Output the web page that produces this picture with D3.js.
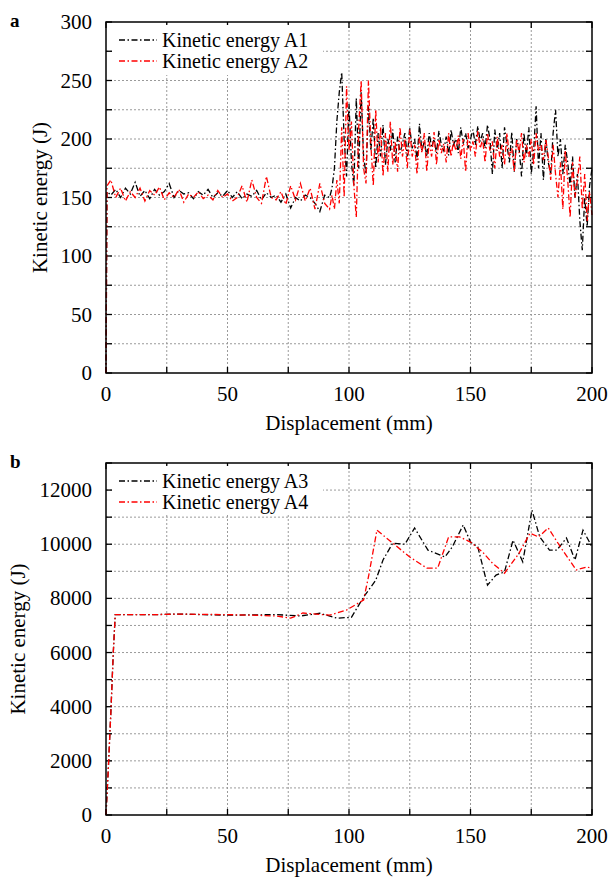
<!DOCTYPE html>
<html>
<head>
<meta charset="utf-8">
<script src="https://cdn.jsdelivr.net/npm/d3@7"></script>
</head>
<body style="margin:0">
<svg id="chart" width="609" height="880"></svg>
<script>
// ---- panel a data: displacement (mm) and kinetic energy (J)
const dispA = [0, 0.4,
  2, 4, 6, 8, 10, 12, 14, 16, 18, 20, 22, 24, 26, 28, 30, 32, 34, 36, 38, 40,
  42, 44, 46, 48, 50, 52, 54, 56, 58, 60, 62, 64, 66, 68, 70, 72, 74, 76, 78, 80,
  82, 84, 86, 88, 90, 92,
  93, 94, 95, 96, 97, 98, 99, 100, 101, 102, 103, 104, 105, 106, 107, 108, 109, 110, 111, 112,
  113, 114, 115, 116, 117, 118, 119, 120, 121, 122, 123, 124, 125, 126, 127, 128, 129, 130, 131, 132,
  133, 134, 135, 136, 137, 138, 139, 140, 141, 142, 143, 144, 145, 146, 147, 148, 149, 150, 151, 152,
  153, 154, 155, 156, 157, 158, 159, 160, 161, 162, 163, 164, 165, 166, 167, 168, 169, 170, 171, 172,
  173, 174, 175, 176, 177, 178, 179, 180, 181, 182, 183, 184, 185, 186, 187, 188, 189, 190, 191, 192,
  193, 194, 195, 196, 197, 198, 199, 200];

const energyA1 = [0, 155,
  152, 157, 150, 158, 153, 163, 151, 156, 149, 157, 152, 155, 162, 150, 156, 153, 154, 149, 155, 152,
  157, 150, 154, 151, 156, 150, 155, 149, 153, 151, 156, 148, 154, 150, 152, 146, 153, 141, 150, 147,
  152, 150, 145, 138, 152, 150,
  158, 175, 215, 240, 257, 200, 168, 230, 180, 160, 235, 175, 240, 185, 170, 228, 190, 218, 175, 205,
  185, 212, 178, 200, 190, 208, 180, 202, 188, 196, 205, 185, 210, 192, 200, 182, 213, 190, 198, 185,
  205, 193, 200, 188, 207, 195, 190, 202, 186, 208, 195, 200, 188, 210, 196, 205, 192, 200, 208, 195,
  211, 198, 205, 192, 212, 200, 170, 208, 190, 205, 175, 210, 195, 180, 206, 172, 200, 192, 168, 205,
  185, 210, 170, 190, 228, 175, 205, 165, 200, 180, 170, 205, 225, 185, 200, 170, 195, 180, 160, 185,
  150, 170, 130, 105, 150, 125, 160, 175];

const energyA2 = [0, 160,
  165, 150, 158, 147, 155, 150, 158, 147, 156, 152, 159, 148, 154, 150, 157, 146, 153, 150, 155, 149,
  152, 148, 156, 150, 153, 147, 150, 160, 146, 165, 150, 145, 168, 150, 148, 155, 144, 160, 148, 162,
  147, 158, 140, 162, 145, 140,
  152, 140, 165, 145, 210, 150, 245, 190, 215, 160, 133, 210, 250, 175, 162, 250, 195, 160, 225, 180,
  210, 168, 205, 172, 215, 178, 198, 172, 210, 185, 200, 175, 208, 185, 195, 170, 202, 188, 205, 172,
  198, 185, 206, 178, 200, 188, 196, 180, 205, 185, 198, 190, 203, 183, 200, 172, 205, 190, 198, 185,
  207, 192, 200, 180, 205, 190, 198, 175, 202, 185, 195, 178, 205, 185, 192, 172, 200, 188, 205, 180,
  195, 185, 200, 178, 205, 190, 195, 182, 200, 185, 165, 195, 170, 150, 180, 140, 190, 165, 133, 180,
  150, 165, 185, 140, 170, 130, 155, 135];

// ---- panel b data
const dispA3 = [0, 1, 2, 3, 3.8, 10, 20, 30, 40, 50, 60, 70, 80,
  88, 95, 101, 106, 111, 114, 118, 123, 127, 132.5,
  139.5, 142.5, 147, 150, 153, 157, 160.5, 164, 167.5, 171.5,
  175.3, 178.5, 182.5, 185.5, 189.5, 193, 196.3, 200];
const energyA3 = [0, 1800, 3800, 6000, 7400, 7400, 7400, 7420, 7400, 7380, 7390, 7400, 7350,
  7450, 7270, 7300, 8050, 8670, 9420, 10040, 10000, 10600, 9780,
  9530, 9900, 10710, 10080, 9900, 8490, 8860, 8980, 10150, 9350,
  11260, 10270, 9780, 9780, 10230, 9420, 10520, 9900];

const dispA4 = [0, 1, 2, 3, 3.8, 10, 20, 30, 40, 50, 60, 70, 76, 81, 92,
  99, 106, 108, 111.5, 118, 125, 132, 136.5, 141, 145.5,
  150, 155, 159, 164, 170, 174.5, 178, 182, 187, 193.5, 198, 200];
const energyA4 = [0, 1800, 3800, 6000, 7400, 7400, 7400, 7420, 7410, 7400, 7380, 7350, 7270, 7460, 7380,
  7570, 7940, 8790, 10520, 10040, 9530, 9120, 9120, 10270, 10270,
  10080, 9710, 9300, 8930, 9670, 10410, 10270, 10600, 9900, 9050, 9160, 9100];

const xTicks = [0, 50, 100, 150, 200];
const yTicksA = [0, 50, 100, 150, 200, 250, 300];
const yTicksB = [0, 2000, 4000, 6000, 8000, 10000, 12000];

const svg = d3.select("#chart");
const dashDot = "6,2.5,1.5,2.5";

// every label goes through this helper so the serif face is set on each element
function label(parent, size) {
  return parent.append("text")
    .attr("font-size", size)
    .attr("font-family", "Liberation Serif")
    .style("font-family", (d) => '"Liberation Serif"');
}

function drawPanel(p) {
  const x = d3.scaleLinear().domain([0, 200]).range([p.left, p.right]);
  const y = d3.scaleLinear().domain([0, p.yMax]).range([p.bottom, p.top]);
  const g = svg.append("g");

  // grid lines (every minor step)
  const xGrid = d3.range(25, 200, 25);
  const yGrid = d3.range(p.yStep, p.yMax, p.yStep);
  g.append("g").selectAll("line").data(xGrid).join("line")
    .attr("x1", (d) => x(d)).attr("x2", (d) => x(d))
    .attr("y1", p.top).attr("y2", p.bottom)
    .attr("stroke", "#9a9a9a").attr("stroke-width", 1).attr("stroke-dasharray", "2,2");
  g.append("g").selectAll("line").data(yGrid).join("line")
    .attr("x1", p.left).attr("x2", p.right)
    .attr("y1", (d) => y(d)).attr("y2", (d) => y(d))
    .attr("stroke", "#9a9a9a").attr("stroke-width", 1).attr("stroke-dasharray", "2,2");

  // inward ticks on all four sides
  const tl = 6;
  const xt = d3.range(0, 201, 25);
  const yt = d3.range(0, p.yMax + 1, p.yStep);
  g.append("g").selectAll("line").data(xt).join("line")
    .attr("x1", (d) => x(d)).attr("x2", (d) => x(d))
    .attr("y1", p.bottom).attr("y2", p.bottom - tl)
    .attr("stroke", "#000").attr("stroke-width", 1.3);
  g.append("g").selectAll("line").data(xt).join("line")
    .attr("x1", (d) => x(d)).attr("x2", (d) => x(d))
    .attr("y1", p.top).attr("y2", p.top + tl)
    .attr("stroke", "#000").attr("stroke-width", 1.3);
  g.append("g").selectAll("line").data(yt).join("line")
    .attr("x1", p.left).attr("x2", p.left + tl)
    .attr("y1", (d) => y(d)).attr("y2", (d) => y(d))
    .attr("stroke", "#000").attr("stroke-width", 1.3);
  g.append("g").selectAll("line").data(yt).join("line")
    .attr("x1", p.right).attr("x2", p.right - tl)
    .attr("y1", (d) => y(d)).attr("y2", (d) => y(d))
    .attr("stroke", "#000").attr("stroke-width", 1.3);

  // tick labels
  xTicks.forEach((v) => {
    label(g, 21)
      .attr("x", x(v)).attr("y", p.bottom + 28)
      .attr("text-anchor", "middle")
      .text(v);
  });
  p.yTicks.forEach((v) => {
    label(g, 21)
      .attr("x", p.left - 14).attr("y", y(v) + 7)
      .attr("text-anchor", "end")
      .text(v);
  });

  // series
  const line = d3.line().x((d) => x(d[0])).y((d) => y(d[1]));
  p.series.forEach((s) => {
    g.append("path")
      .datum(d3.zip(s.xs, s.ys))
      .attr("d", line)
      .attr("fill", "none")
      .attr("stroke", s.color)
      .attr("stroke-width", 1.3)
      .attr("stroke-dasharray", dashDot);
  });

  // legend with white background
  g.append("rect")
    .attr("x", p.left + 7).attr("y", p.top + 3)
    .attr("width", 210).attr("height", p.legendH)
    .attr("fill", "#fff");
  p.series.forEach((s, i) => {
    const ly = p.top + 18 + i * 21;
    g.append("line")
      .attr("x1", p.left + 13).attr("x2", p.left + 51)
      .attr("y1", ly).attr("y2", ly)
      .attr("stroke", s.color).attr("stroke-width", 1.3)
      .attr("stroke-dasharray", dashDot);
    label(g, 20)
      .attr("x", p.left + 56).attr("y", ly + 7)
      .text(s.name);
  });

  // frame
  g.append("rect")
    .attr("x", p.left).attr("y", p.top)
    .attr("width", p.right - p.left).attr("height", p.bottom - p.top)
    .attr("fill", "none").attr("stroke", "#000").attr("stroke-width", 1.5);

  // axis titles
  label(g, 21)
    .attr("x", (p.left + p.right) / 2).attr("y", p.bottom + 57)
    .attr("text-anchor", "middle")
    .text("Displacement (mm)");
  label(g, 21)
    .attr("transform", `translate(${p.yTitleX},${(p.top + p.bottom) / 2}) rotate(-90)`)
    .attr("text-anchor", "middle")
    .text("Kinetic energy (J)");

  // panel letter
  label(g, 19)
    .attr("x", 10).attr("y", p.top + 5)
    .attr("font-weight", "bold")
    .text(p.letter);
}

drawPanel({
  letter: "a", left: 106, right: 592, top: 22, bottom: 373,
  yMax: 300, yStep: 25, yTicks: yTicksA, yTitleX: 47, legendH: 50,
  series: [
    { name: "Kinetic energy A1", xs: dispA, ys: energyA1, color: "#000" },
    { name: "Kinetic energy A2", xs: dispA, ys: energyA2, color: "#ff0000" }
  ]
});

drawPanel({
  letter: "b", left: 106, right: 592, top: 463, bottom: 815,
  yMax: 13000, yStep: 1000, yTicks: yTicksB, yTitleX: 25, legendH: 48,
  series: [
    { name: "Kinetic energy A3", xs: dispA3, ys: energyA3, color: "#000" },
    { name: "Kinetic energy A4", xs: dispA4, ys: energyA4, color: "#ff0000" }
  ]
});
</script>
</body>
</html>
